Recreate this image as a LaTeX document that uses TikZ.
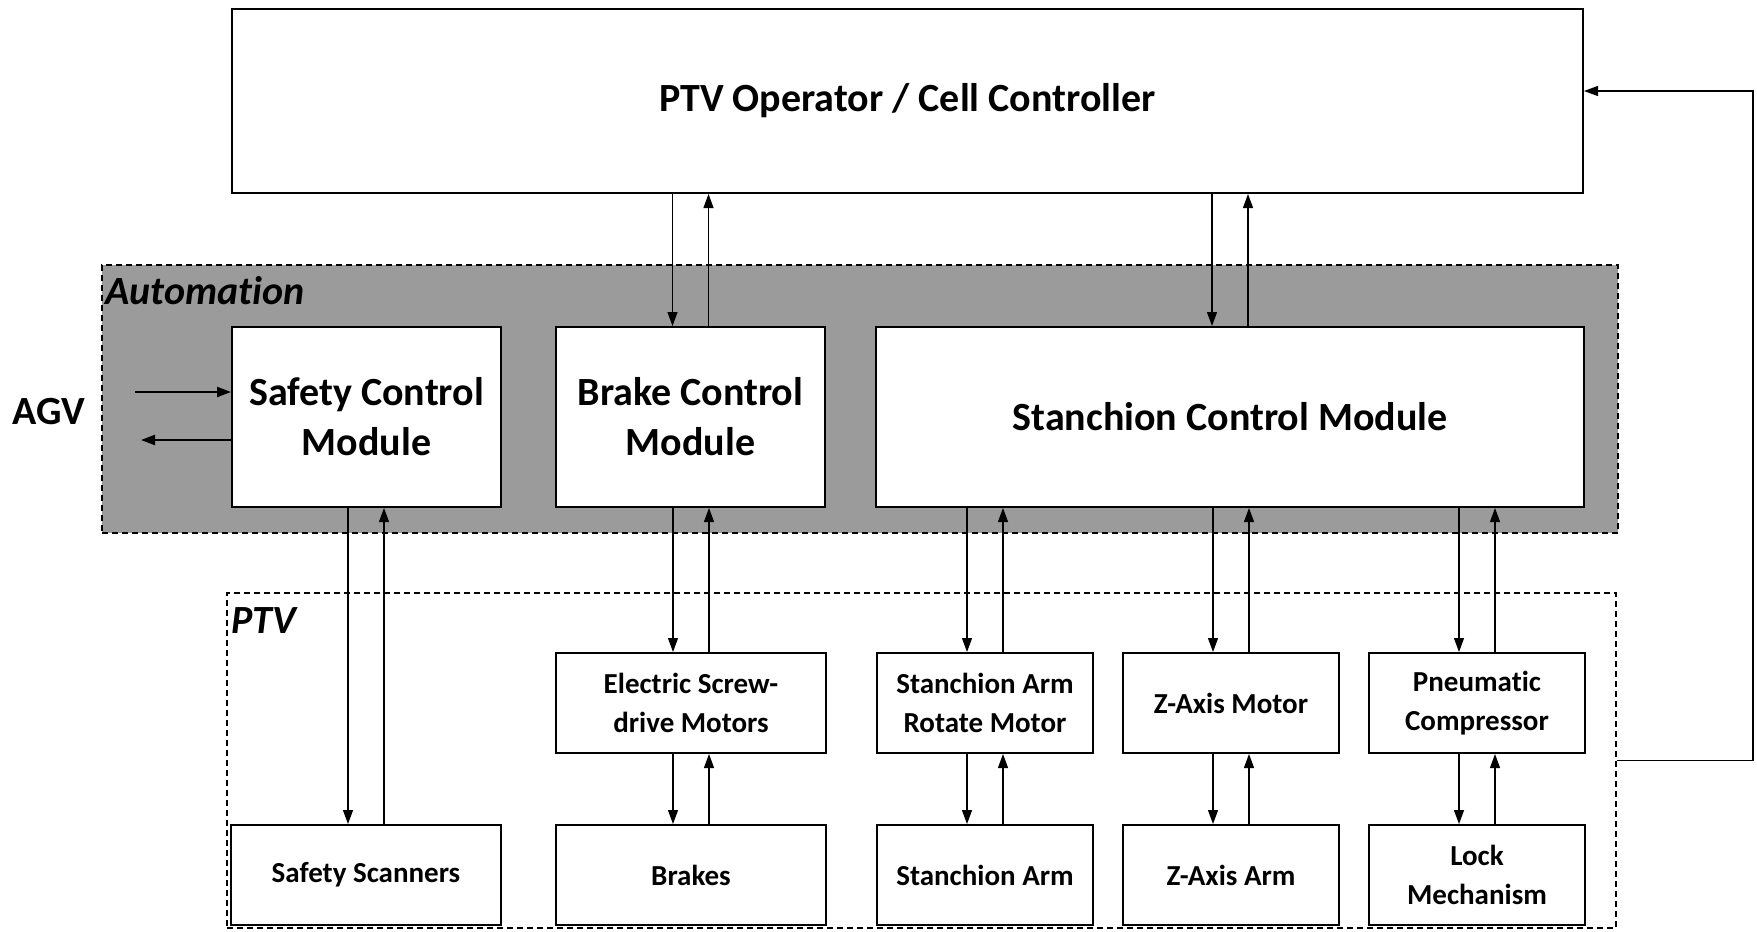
\documentclass[tikz,border=0pt]{standalone}
\usepackage{fontspec}
\setmainfont{Carlito}[Ligatures=NoCommon]
\usetikzlibrary{positioning,arrows.meta}
\definecolor{autogray}{RGB}{155,155,155}
\begin{document}
\begin{tikzpicture}[
  x=0.5pt, y=-0.5pt,
  module/.style={draw, line width=1pt, fill=white, align=center, inner sep=0pt, font=\bfseries\fontsize{20}{25}\selectfont, minimum width=134.5pt, minimum height=90pt},
  part/.style={draw, line width=1pt, fill=white, align=center, inner sep=0pt, font=\bfseries\fontsize{14.5}{19.5}\selectfont, minimum height=50pt},
  region/.style={draw, dash pattern=on 3pt off 2pt, line width=0.9pt, inner sep=0pt},
  tag/.style={anchor=north west, inner sep=0pt, font=\bfseries\itshape\fontsize{20}{24}\selectfont},
  arr/.style={-{Triangle[length=7pt,width=5pt]}, line width=0.6pt},
  node distance=35pt
]
\useasboundingbox (0,0) rectangle (1757,932);
\node[region, fill=autogray, minimum width=758pt, minimum height=134pt] (auto) at (860,399) {};
\node[tag] (autotag) at ([shift={(2pt,-6pt)}]auto.north west) {Automation};
\node[region, minimum width=694.5pt, minimum height=167.5pt] (ptv) at (921.5,760.5) {};
\node[tag] (ptvtag) at ([shift={(2.5pt,-7.5pt)}]ptv.north west) {PTV};

\node[draw, line width=1pt, minimum width=675.5pt, minimum height=92pt, font=\bfseries\fontsize{20}{25}\selectfont] (ctrl) at (907.5,101) {PTV Operator / Cell Controller};

\node[module] (safe) at (366.5,417) {Safety Control\\Module};
\node[module] (brake) at (690.5,417) {Brake Control\\Module};
\node[module, minimum width=354pt] (stan) at (1230,417) {Stanchion Control Module};

\node[part, minimum width=135pt] (screw) at (691,703) {Electric Screw-\\drive Motors};
\node[part, minimum width=108pt] (rot) at (985,703) {Stanchion Arm\\Rotate Motor};
\node[part, minimum width=108pt] (zmot) at (1231,703) {Z-Axis Motor};
\node[part, minimum width=108pt] (pneu) at (1477,703) {Pneumatic\\Compressor};
\node[part, minimum width=135pt, below=of screw] (brk) {Brakes};
\node[part, minimum width=135pt, left=26.5pt of brk] (scan) {Safety Scanners};
\node[part, minimum width=108pt, below=of rot] (arm) {Stanchion Arm};
\node[part, minimum width=108pt, below=of zmot] (zarm) {Z-Axis Arm};
\node[part, minimum width=108pt, below=of pneu] (lock) {Lock\\Mechanism};

\node[font=\bfseries\fontsize{20}{24}\selectfont] (agv) at (49,412) {AGV};
\coordinate (agvin) at (135,392);
\coordinate (agvout) at (141,440);
\draw[arr, line width=1.1pt] (agvin) -- (agvin -| safe.west);
\draw[arr, line width=1.1pt] (agvout -| safe.west) -- (agvout);

\foreach \a/\b in {ctrl/brake, ctrl/stan, safe/scan, brake/screw, screw/brk, stan/rot, rot/arm, stan/zmot, zmot/zarm, stan/pneu, pneu/lock} {
  \draw[arr] ([xshift=-9pt]\b.north |- \a.south) -- ([xshift=-9pt]\b.north);
  \draw[arr] ([xshift=9pt]\b.north) -- ([xshift=9pt]\b.north |- \a.south);
}

\draw[arr] (ptv.east) -- ++(136,0) |- ([yshift=5pt]ctrl.east);
\end{tikzpicture}
\end{document}
